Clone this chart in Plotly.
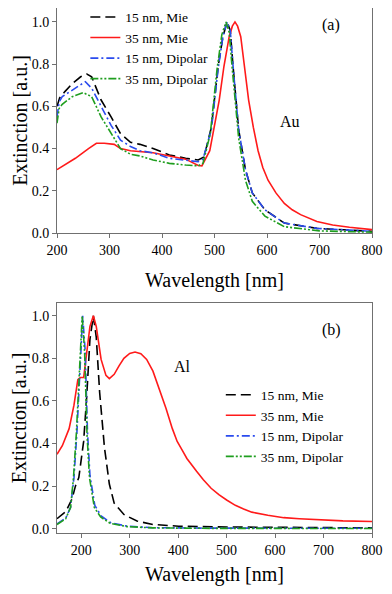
import plotly.graph_objects as go

# ---- panel (a): Au ----
au_mie15_wl = [200, 205, 215, 230, 245, 257, 266, 284, 303, 321, 340, 358, 383, 414, 445,
               469, 480, 494, 507, 516, 524, 530, 535, 546, 559, 572, 596, 633, 695, 800]
au_mie15 = [0.60, 0.64, 0.67, 0.71, 0.74, 0.753, 0.74, 0.63, 0.55, 0.47, 0.43, 0.42, 0.40, 0.37, 0.354,
            0.346, 0.36, 0.50, 0.79, 0.93, 1.0, 0.96, 0.80, 0.49, 0.30, 0.19, 0.11, 0.047, 0.022, 0.008]

au_mie35_wl = [200, 235, 260, 275, 290, 309, 321, 340, 383, 414, 445, 469, 476, 491, 509, 518,
               528, 534, 539, 544, 550, 557, 565, 574, 583, 592, 602, 617, 633, 648, 664, 695, 725, 757, 800]
au_mie35 = [0.30, 0.354, 0.40, 0.425, 0.425, 0.42, 0.40, 0.39, 0.38, 0.365, 0.35, 0.32, 0.318, 0.39, 0.63, 0.79,
            0.93, 0.98, 1.0, 0.98, 0.93, 0.79, 0.63, 0.50, 0.39, 0.31, 0.25, 0.19, 0.14, 0.11, 0.087, 0.055,
            0.038, 0.027, 0.016]

au_dip15_wl = [200, 204, 210, 235, 254, 266, 284, 303, 321, 340, 358, 383, 414, 445, 469,
               478, 494, 507, 516, 524, 530, 535, 546, 559, 572, 596, 633, 695, 800]
au_dip15 = [0.55, 0.62, 0.646, 0.686, 0.717, 0.686, 0.60, 0.51, 0.44, 0.41, 0.39, 0.38, 0.354, 0.346, 0.338,
            0.35, 0.49, 0.78, 0.93, 1.0, 0.96, 0.80, 0.49, 0.30, 0.19, 0.11, 0.047, 0.022, 0.008]

au_dip35_wl = [200, 204, 210, 229, 250, 266, 284, 303, 321, 340, 358, 383, 414, 445, 469,
               478, 492, 505, 514, 522, 528, 533, 546, 559, 572, 596, 633, 700, 800]
au_dip35 = [0.52, 0.59, 0.61, 0.646, 0.665, 0.646, 0.55, 0.47, 0.40, 0.373, 0.365, 0.346, 0.33, 0.322, 0.318,
            0.33, 0.47, 0.78, 0.94, 1.0, 0.95, 0.80, 0.45, 0.25, 0.15, 0.08, 0.03, 0.01, 0.004]

# ---- panel (b): Al ----
al_mie15_wl = [150, 168, 181, 188, 195, 205, 211, 218, 225, 231, 238, 248, 258, 268, 288,
               315, 348, 401, 500, 800]
al_mie15 = [0.047, 0.08, 0.14, 0.20, 0.24, 0.41, 0.61, 0.89, 1.0, 0.90, 0.64, 0.38, 0.21, 0.12, 0.067,
            0.036, 0.02, 0.012, 0.008, 0.004]

al_mie35_wl = [150, 161, 175, 185, 193, 198, 205, 211, 218, 225, 231, 241, 251, 258, 268, 278, 288, 300,
               311, 323, 335, 348, 361, 375, 388, 398, 408, 418, 438, 452, 468, 484, 500, 518, 535, 552,
               585, 618, 650, 684, 740, 800]
al_mie35 = [0.35, 0.39, 0.47, 0.58, 0.70, 0.71, 0.71, 0.81, 0.95, 1.0, 0.95, 0.795, 0.72, 0.705, 0.725, 0.765,
            0.80, 0.823, 0.83, 0.822, 0.795, 0.74, 0.656, 0.565, 0.47, 0.41, 0.37, 0.33, 0.27, 0.23, 0.19,
            0.16, 0.135, 0.11, 0.093, 0.078, 0.063, 0.052, 0.047, 0.042, 0.037, 0.034]

al_dip15_wl = [150, 168, 178, 185, 191, 198, 203, 208, 213, 218, 228, 241, 261, 295, 348, 450, 800]
al_dip15 = [0.023, 0.05, 0.10, 0.24, 0.45, 0.76, 1.0, 0.84, 0.45, 0.25, 0.11, 0.06, 0.028, 0.012, 0.005, 0.003, 0.002]

al_dip35_wl = [150, 168, 178, 184, 190, 197, 202, 207, 212, 217, 227, 240, 260, 295, 348, 450, 800]
al_dip35 = [0.020, 0.047, 0.10, 0.24, 0.45, 0.78, 1.0, 0.83, 0.44, 0.24, 0.10, 0.055, 0.025, 0.01, 0.004, 0.002, 0.001]

names = ["15 nm, Mie", "35 nm, Mie", "15 nm, Dipolar", "35 nm, Dipolar"]
colors = ["#000000", "#ff1a1a", "#2a4bee", "#1f9e1f"]
dashes = ["10px,5px", "solid", "8px,3px,2px,3px", "8px,2px,2px,2px,2px,2px"]

FONT = "Liberation Serif, Times New Roman, serif"

fig = go.Figure()
panel_a = [(au_mie15_wl, au_mie15), (au_mie35_wl, au_mie35), (au_dip15_wl, au_dip15), (au_dip35_wl, au_dip35)]
panel_b = [(al_mie15_wl, al_mie15), (al_mie35_wl, al_mie35), (al_dip15_wl, al_dip15), (al_dip35_wl, al_dip35)]

for n, c, d, (x, y) in zip(names, colors, dashes, panel_a):
    fig.add_trace(go.Scatter(x=x, y=y, name=n, mode="lines", xaxis="x", yaxis="y", legend="legend",
                             line=dict(color=c, dash=d, width=1.6)))
for n, c, d, (x, y) in zip(names, colors, dashes, panel_b):
    fig.add_trace(go.Scatter(x=x, y=y, name=n, mode="lines", xaxis="x2", yaxis="y2", legend="legend2",
                             line=dict(color=c, dash=d, width=1.6)))

axis_common = dict(showline=True, linecolor="#707070", linewidth=1, mirror=True, ticks="outside",
                   ticklen=4, tickcolor="#707070", showgrid=False, zeroline=False, automargin=False,
                   tickfont=dict(family=FONT, size=14, color="black"))
title_font = dict(family=FONT, size=20, color="black")
note_font = dict(family=FONT, size=16, color="black")

legend_common = dict(font=dict(family=FONT, size=13.5, color="black"), bgcolor="rgba(0,0,0,0)",
                     xanchor="left", yanchor="top", itemwidth=30, tracegroupgap=0)

ytitle = "Extinction [a.u.]"

# the page body has an 8px margin, so the figure is sized to fit inside it without scrolling
fig.update_layout(
    width=376, height=578,
    margin=dict(l=49, r=12, t=0, b=53, autoexpand=False),
    paper_bgcolor="white", plot_bgcolor="white",
    showlegend=True,
    xaxis=dict(axis_common, domain=[0, 1], range=[200, 800], dtick=100, anchor="y",
               title=dict(text="Wavelength [nm]", font=title_font, standoff=16)),
    yaxis=dict(axis_common, domain=[0.5714, 1], range=[0, 1.066], dtick=0.2, tickformat=".1f", anchor="x"),
    xaxis2=dict(axis_common, domain=[0, 1], range=[150, 800], tickvals=[200, 300, 400, 500, 600, 700, 800],
                anchor="y2", title=dict(text="Wavelength [nm]", font=title_font, standoff=16)),
    yaxis2=dict(axis_common, domain=[0, 0.4381], range=[-0.02, 1.06], dtick=0.2, tickformat=".1f", anchor="x2"),
    legend=dict(legend_common, x=0.09, y=1.012),
    legend2=dict(legend_common, x=0.52, y=0.2924),
    annotations=[
        dict(text=ytitle, x=-0.12, y=0.7857, xref="paper", yref="paper", textangle=-90,
             xanchor="center", yanchor="middle", showarrow=False, font=title_font),
        dict(text=ytitle, x=-0.12, y=0.2190, xref="paper", yref="paper", textangle=-90,
             xanchor="center", yanchor="middle", showarrow=False, font=title_font),
        dict(text="(a)", x=722, y=0.986, xref="x", yref="y", showarrow=False, font=note_font),
        dict(text="Au", x=643, y=0.53, xref="x", yref="y", showarrow=False, font=note_font),
        dict(text="(b)", x=716, y=0.935, xref="x2", yref="y2", showarrow=False, font=note_font),
        dict(text="Al", x=408, y=0.76, xref="x2", yref="y2", showarrow=False, font=note_font),
    ],
)

fig.write_html("out.html")
